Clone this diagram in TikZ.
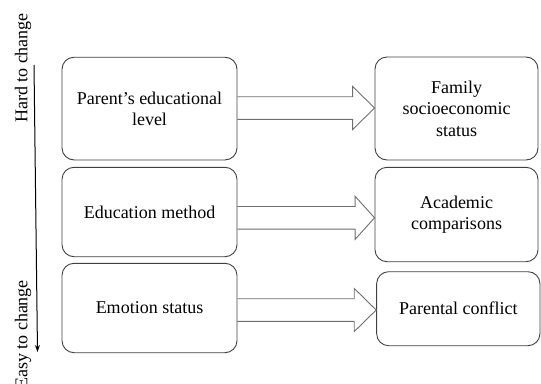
\documentclass[tikz,border=0pt]{standalone}
\usepackage{fontspec}
\setmainfont{Liberation Serif}
\usetikzlibrary{calc,arrows.meta}
\definecolor{boxline}{HTML}{404040}
\definecolor{arrline}{HTML}{6E6E6E}
\tikzset{
  box/.style={draw=boxline, line width=0.9pt, rounded corners=12pt, align=center,
    font=\fontsize{18}{21.5}\selectfont, inner sep=2pt},
  barrow/.style={draw=arrline, line width=0.9pt, line join=miter},
  sidetext/.style={rotate=90, font=\fontsize{18}{21.5}\selectfont, inner sep=0pt},
}
\newcommand\blockarr[4]{% #1 source node, #2 target node, #3 dy of tip from target west, #4 head length
  \coordinate (t#1) at ($(#2.west)+(0,#3)$);
  \coordinate (s#1) at (#1.east |- t#1);
  \coordinate (h#1) at ($(t#1)+(-#4,0)$);
  \draw[barrow] ($(s#1)+(0,-11.3)$) -- ($(h#1)+(0,-11.3)$) -- ($(h#1)+(0,-21.6)$) -- (t#1)
     -- ($(h#1)+(0,21.6)$) -- ($(h#1)+(0,11.3)$) -- ($(s#1)+(0,11.3)$);
}
\begin{document}
\begin{tikzpicture}[x=1pt, y=-1pt]
\useasboundingbox (0,0) rectangle (541,383);
% left column
\node[box, minimum width=175pt, minimum height=102.7pt] (L1) at (149.5,108.6) {Parent’s educational\\level};
\node[box, minimum width=175pt, minimum height=89.4pt] (L2) at (149.5,212) {Education method};
\node[box, minimum width=175pt, minimum height=89.4pt] (L3) at (149.5,308) {Emotion status};
% right column
\node[box, minimum width=163pt, minimum height=103pt] (R1) at (456.5,108.5) {Family\\socioeconomic\\status};
\node[box, minimum width=163pt, minimum height=94.4pt] (R2) at (456.5,214.5) {Academic\\comparisons};
\node[box, minimum width=163.3pt, minimum height=74pt] (R3) at (458.3,308.7) {Parental conflict};
% block arrows
\blockarr{L1}{R1}{-0.5}{22}
\blockarr{L2}{R2}{3.3}{19.5}
\blockarr{L3}{R3}{1.3}{22}
% side scale
\node[sidetext] (hard) at (23,68) {Hard to change};
\node[sidetext] (easy) at (23,334.5) {Easy to change};
\coordinate (vtop) at (34,65);
\coordinate (vbot) at (37.5,352);
\draw[line width=1pt, -{Stealth[length=7pt,width=5pt]}] (vtop) -- (vbot);
\end{tikzpicture}
\end{document}
